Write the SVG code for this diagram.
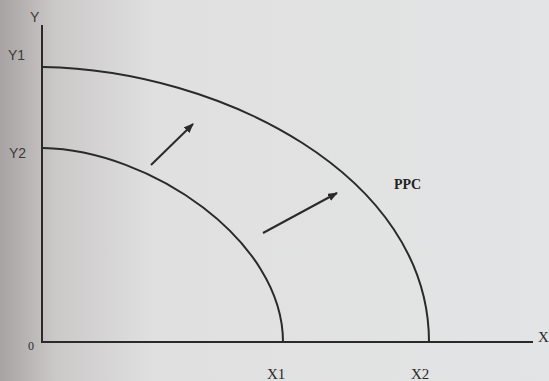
<svg xmlns="http://www.w3.org/2000/svg" width="549" height="381" viewBox="0 0 549 381">
<defs>
<linearGradient id="bg" x1="0" y1="0" x2="1" y2="0">
<stop offset="0" stop-color="#a8a2a2"/>
<stop offset="0.1" stop-color="#cbc8c8"/>
<stop offset="0.28" stop-color="#e0e0e0"/>
<stop offset="1" stop-color="#e3e4e5"/>
</linearGradient>
<marker id="ah" viewBox="0 0 10 8" refX="9" refY="4" markerWidth="10" markerHeight="8" markerUnits="userSpaceOnUse" orient="auto">
<path d="M0,0 L10,4 L0,8 z" fill="#2a2a2a"/>
</marker>
<style>
.ax{stroke:#2a2a2a;stroke-width:2;fill:none}
.cv{stroke:#2a2a2a;stroke-width:2;fill:none}
.ar{stroke:#2a2a2a;stroke-width:2;fill:none;marker-end:url(#ah)}
.ls{font-family:"Liberation Sans",Arial,sans-serif;font-size:14px;fill:#3a3a3a}
.lr{font-family:"Liberation Serif","Times New Roman",serif;font-size:15px;fill:#2a2a2a}
.lb{font-family:"Liberation Serif","Times New Roman",serif;font-size:14px;font-weight:bold;fill:#222}
</style>
</defs>
<rect x="0" y="0" width="549" height="381" fill="url(#bg)"/>
<g id="axes">
<line class="ax" x1="42" y1="25" x2="42" y2="342"/>
<line class="ax" x1="41" y1="342" x2="533" y2="342"/>
</g>
<g id="curve-outer">
<path class="cv" d="M43,67 C220,70 429,175 429,342"/>
</g>
<g id="curve-inner">
<path class="cv" d="M43,148 C150,150 283,240 283,342"/>
</g>
<g id="connectors">
<line class="ar" x1="151" y1="165" x2="193" y2="124"/>
<line class="ar" x1="263" y1="233" x2="337" y2="193"/>
</g>
<g id="labels">
<text class="ls" x="30" y="22">Y</text>
<text class="ls" x="8" y="60">Y1</text>
<text class="ls" x="9" y="158">Y2</text>
<text class="lr" x="28" y="350" style="font-size:12px">0</text>
<text class="lr" x="538" y="342">X</text>
<text class="lr" x="267" y="379">X1</text>
<text class="lr" x="411" y="379">X2</text>
<text class="lb" x="394" y="189">PPC</text>
</g>
</svg>
